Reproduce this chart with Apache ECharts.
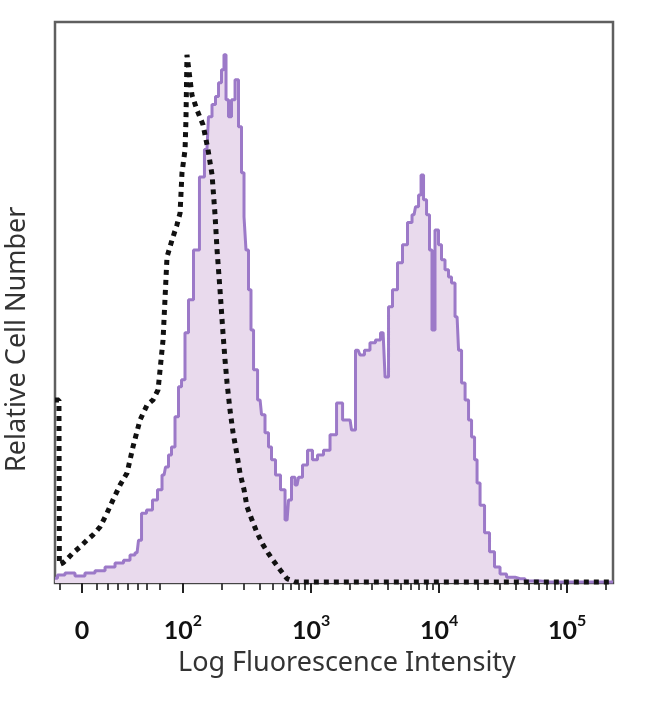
<!DOCTYPE html>
<html>
<head>
<meta charset="utf-8">
<script src="https://cdn.jsdelivr.net/npm/echarts@6/dist/echarts.min.js"></script>
<style>
html,body{margin:0;padding:0;background:#fff;}
#c{width:650px;height:704px;}
</style>
</head>
<body>
<div id="c"></div>
<script>
// x values are in display decades (logicle-like scale: 2 = 10^2, 3 = 10^3 ...)
const stainedX = [1.000,1.039,1.117,1.195,1.273,1.352,1.430,1.508,1.563,1.609,1.641,1.664,1.688,1.742,1.781,1.820,1.852,1.875,1.898,1.922,1.953,1.977,2.000,2.031,2.055,2.109,2.148,2.187,2.211,2.242,2.266,2.289,2.312,2.328,2.344,2.367,2.391,2.422,2.445,2.469,2.484,2.500,2.523,2.539,2.563,2.602,2.625,2.656,2.680,2.703,2.742,2.781,2.813,2.836,2.859,2.891,2.914,2.953,2.992,3.031,3.070,3.125,3.172,3.227,3.266,3.305,3.328,3.367,3.398,3.437,3.484,3.523,3.563,3.594,3.617,3.656,3.695,3.734,3.773,3.805,3.828,3.852,3.867,3.891,3.914,3.937,3.953,3.984,4.008,4.031,4.062,4.086,4.109,4.141,4.164,4.188,4.219,4.242,4.266,4.289,4.305,4.336,4.375,4.414,4.453,4.500,4.555,4.633,4.711,4.867,5.101,5.359];
const stainedY = [0.9,1.5,1.9,1.3,1.9,2.3,3.0,3.8,4.3,5.3,5.7,8.1,13.2,13.8,15.7,17.6,20.4,21.9,24.2,25.7,31.4,37.1,38.4,47.3,53.5,62.9,76.7,81.9,88.1,90.4,91.9,94.5,97.0,99.8,91.3,88.1,91.3,95.1,86.2,77.5,69.2,62.9,55.4,47.8,40.3,34.6,31.8,28.4,25.7,23.3,20.4,17.6,11.9,15.7,20.0,18.5,20.0,22.3,25.1,23.3,24.2,25.1,28.0,34.0,30.8,30.8,28.9,44.0,43.1,44.0,45.4,45.9,47.3,38.9,52.2,55.4,60.5,63.9,68.1,69.6,71.1,73.3,77.1,72.4,69.6,62.9,47.8,66.7,63.9,61.1,59.2,57.8,56.7,50.3,44.0,37.8,34.6,30.8,27.6,23.3,18.9,14.7,9.5,5.9,3.0,1.7,1.1,0.8,0.4,0.2,0.2,0.2];

const controlX = [1.000,1.031,1.034,1.062,1.102,1.141,1.195,1.250,1.297,1.352,1.406,1.453,1.508,1.563,1.609,1.664,1.719,1.766,1.805,1.844,1.859,1.875,1.914,1.953,1.977,1.992,2.016,2.023,2.031,2.055,2.070,2.109,2.156,2.195,2.227,2.250,2.266,2.289,2.312,2.328,2.344,2.367,2.391,2.422,2.445,2.477,2.500,2.539,2.578,2.625,2.664,2.703,2.758,2.813,2.875,5.359];
const controlY = [34.6,34.6,3.5,3.8,4.7,5.7,6.8,8.1,9.1,10.6,13.2,15.7,18.5,20.8,25.7,30.8,33.6,34.6,36.5,45.9,53.5,61.6,64.8,67.7,69.9,77.5,81.9,87.5,99.8,95.1,92.2,89.4,86.6,81.9,77.1,69.6,62.9,55.4,47.3,42.2,37.8,32.7,28.4,24.2,20.8,17.6,14.4,11.9,9.5,7.2,5.7,4.3,2.5,0.8,0.2,0.2];

const majorTicks = [1.211, 2, 3, 4, 5];
const tickLabels = ['0', '2', '3', '4', '5'];
const linearMinorTicks = [1.039, 1.328, 1.414, 1.492, 1.570, 1.648, 1.719, 1.820];
const logMinorMultipliers = [2,3,4,5,6,7,8,9];
const logMinorDecades = [2,3,4];

const minorTicks = linearMinorTicks.slice();
logMinorDecades.forEach(function(n){
  logMinorMultipliers.forEach(function(k){ minorTicks.push(n + Math.log10(k)); });
});
minorTicks.push(5 + Math.log10(2));

const chart = echarts.init(document.getElementById('c'));
const zip = (xs, ys) => xs.map((x, i) => [x, ys[i]]);
const XMIN = 1.0, XMAX = 5.359;

chart.setOption({
  animation: false,
  grid: {left: 55, top: 22, width: 558, height: 561, show: true, borderColor: '#5f5f5f', borderWidth: 2.5, containLabel: false},
  xAxis: [{
    type: 'value', min: XMIN, max: XMAX, position: 'bottom',
    axisLine: {show: true, lineStyle: {color: '#444', width: 2}},
    axisTick: {show: true, customValues: majorTicks, length: 10, lineStyle: {color: '#222', width: 2}},
    splitLine: {show: false},
    axisLabel: {
      show: true, customValues: majorTicks, margin: 30,
      formatter: function (v) {
        const i = majorTicks.findIndex(t => Math.abs(t - v) < 1e-6);
        if (i <= 0) return '{b|0}';
        return '{b|10}{s|' + tickLabels[i] + '}';
      },
      rich: {
        b: {fontFamily: 'Lato', fontWeight: 'bold', fontSize: 25, color: '#111', verticalAlign: 'bottom', lineHeight: 30},
        s: {fontFamily: 'Lato', fontWeight: 'bold', fontSize: 16, color: '#111', verticalAlign: 'top', lineHeight: 30}
      }
    }
  }, {
    type: 'value', min: XMIN, max: XMAX, position: 'bottom',
    axisLine: {show: false},
    axisTick: {show: true, customValues: minorTicks, length: 7, lineStyle: {color: '#333', width: 1.8}},
    axisLabel: {show: false},
    splitLine: {show: false}
  }],
  yAxis: {type: 'value', min: 0, max: 106, show: false},
  series: [{
    type: 'line', xAxisIndex: 0, data: zip(stainedX, stainedY), step: 'middle', showSymbol: false,
    lineStyle: {color: '#9c79c8', width: 3},
    areaStyle: {color: '#e9daed', opacity: 1},
    z: 2
  }, {
    type: 'line', xAxisIndex: 0, data: zip(controlX, controlY), showSymbol: false,
    lineStyle: {color: '#111', width: 5, type: [5, 5], cap: 'butt'},
    z: 3
  }],
  graphic: [{
    type: 'text', left: 178, top: 650,
    style: {text: 'Log Fluorescence Intensity', font: '27px "Noto Sans"', fill: '#333'}
  }, {
    type: 'text', x: 4, y: 472, rotation: Math.PI / 2,
    style: {text: 'Relative Cell Number', font: '27px "Noto Sans"', fill: '#333'}
  }]
});
</script>
</body>
</html>
